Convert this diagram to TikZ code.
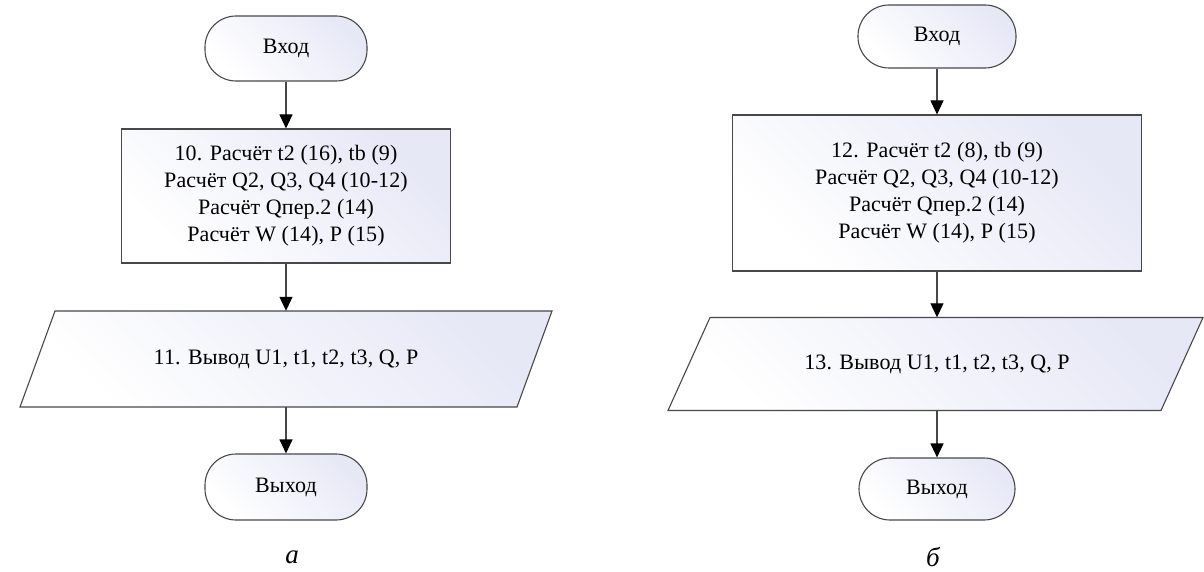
\documentclass[tikz,border=0pt]{standalone}
\usepackage{fontspec}
\setmainfont{Liberation Serif}
\newfontfamily\diagfont[LetterSpace=0.5]{Liberation Serif}
\usetikzlibrary{arrows.meta}
\definecolor{edgegray}{RGB}{72,72,72}
\definecolor{fillshade}{RGB}{230,232,246}
\tikzset{
  shapefill/.style={draw=edgegray, line width=1.1pt, top color=fillshade, bottom color=white, shading angle=-45},
  terminal/.style={shapefill, rounded corners=31pt, align=center},
  procbox/.style={shapefill, align=center},
  txt/.style={font=\diagfont\fontsize{22}{27}\selectfont},
  ghost/.style={draw=none, inner sep=0pt, align=center},
  flow/.style={draw=edgegray, line width=1.1pt, -{Triangle[width=13pt,length=14pt,color=black]}},
  caption/.style={font=\fontsize{27}{30}\selectfont\itshape}
}
\begin{document}
\begin{tikzpicture}[x=1pt, y=-1pt]
\useasboundingbox (0,0) rectangle (1204,572);

% ---------- left scheme ----------
\node[terminal, txt, minimum width=162pt, minimum height=65pt] (inL) at (286,48.5) {Вход};
\node[procbox, txt, minimum width=329pt, minimum height=134pt] (calcL) at (286,196)
  {10. Расчёт t2 (16), tb (9)\\Расчёт Q2, Q3, Q4 (10-12)\\Расчёт Qпер.2 (14)\\Расчёт W (14), P (15)};
\path[shapefill] (20,407) -- (55,311) -- (552,311) -- (517,407) -- cycle;
\node[ghost, txt, minimum height=96pt] (outL) at (286,359) {11. Вывод U1, t1, t2, t3, Q, P};
\node[terminal, txt, minimum width=162pt, minimum height=66pt] (exitL) at (286,487) {Выход};
\node[caption] (capL) at (292,557) {а};

\draw[flow] (inL) -- (calcL);
\draw[flow] (calcL) -- (outL);
\draw[flow] (outL) -- (exitL);

% ---------- right scheme ----------
\node[terminal, txt, minimum width=158pt, minimum height=63pt] (inR) at (937,36.5) {Вход};
\node[procbox, txt, minimum width=409pt, minimum height=156pt] (calcR) at (937,193)
  {12. Расчёт t2 (8), tb (9)\\Расчёт Q2, Q3, Q4 (10-12)\\Расчёт Qпер.2 (14)\\Расчёт W (14), P (15)};
\path[shapefill] (668,410.5) -- (710,317.5) -- (1203,317.5) -- (1161,410.5) -- cycle;
\node[ghost, txt, minimum height=93pt] (outR) at (937,364) {13. Вывод U1, t1, t2, t3, Q, P};
\node[terminal, txt, minimum width=156pt, minimum height=62pt] (exitR) at (937,489) {Выход};
\node[caption] (capR) at (933,557) {б};

\draw[flow] (inR) -- (calcR);
\draw[flow] (calcR) -- (outR);
\draw[flow] (outR) -- (exitR);
\end{tikzpicture}
\end{document}
